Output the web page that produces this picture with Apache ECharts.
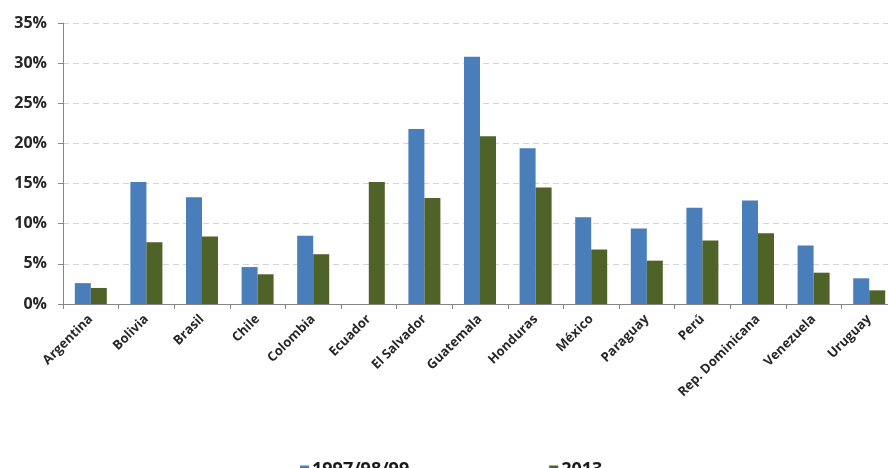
<!DOCTYPE html>
<html>
<head>
<meta charset="utf-8">
<script src="https://cdn.jsdelivr.net/npm/echarts@6/dist/echarts.min.js"></script>
<style>
  html, body { margin: 0; padding: 0; background: #ffffff; }
  #chart { width: 888px; height: 468px; }
</style>
</head>
<body>
<div id="chart"></div>
<script>
// Countries on the category axis
const countries = ['Argentina', 'Bolivia', 'Brasil', 'Chile', 'Colombia', 'Ecuador', 'El Salvador',
  'Guatemala', 'Honduras', 'México', 'Paraguay', 'Perú', 'Rep. Dominicana', 'Venezuela', 'Uruguay'];

// Share (%) for the late-1990s survey round; Ecuador has no value
const round1990s = [2.6, 15.2, 13.3, 4.6, 8.5, null, 21.8, 30.8, 19.4, 10.8, 9.4, 12.0, 12.9, 7.3, 3.2];

// Share (%) for 2013
const round2013 = [2.0, 7.7, 8.4, 3.7, 6.2, 15.2, 13.2, 20.9, 14.5, 6.8, 5.4, 7.9, 8.8, 3.9, 1.7];

const seriesNames = ['1997/98/99', '2013'];
const yTicks = { min: 0, max: 35, step: 5 };

const chart = echarts.init(document.getElementById('chart'), null, { renderer: 'canvas' });

const labelFont = '"Open Sans", "DejaVu Sans", sans-serif';

chart.setOption({
  animation: false,
  backgroundColor: '#ffffff',
  // plot area runs a little past the right edge of the canvas
  grid: { left: 63, top: 23, width: 834, height: 281, containLabel: false, outerBoundsMode: 'none' },
  legend: {
    data: seriesNames,
    left: 295,
    top: 456,
    itemWidth: 9,
    itemHeight: 9,
    itemGap: 140,
    icon: 'rect',
    textStyle: { fontFamily: labelFont, fontWeight: 'bold', fontSize: 18, color: '#1a1a1a', padding: [0, 0, 0, -2] }
  },
  xAxis: {
    type: 'category',
    data: countries,
    boundaryGap: true,
    axisLine: { lineStyle: { color: '#868686', width: 1 } },
    axisTick: { show: true, length: 5, lineStyle: { color: '#868686' } },
    axisLabel: {
      rotate: 45,
      interval: 0,
      margin: 13,
      fontFamily: labelFont,
      fontWeight: 'bold',
      fontSize: 13,
      color: '#262626'
    }
  },
  yAxis: {
    type: 'value',
    min: yTicks.min,
    max: yTicks.max,
    interval: yTicks.step,
    axisLine: { show: true, lineStyle: { color: '#868686', width: 1 } },
    axisTick: { show: true, length: 5, lineStyle: { color: '#868686' } },
    axisLabel: {
      formatter: v => v + '%',
      margin: 16,
      fontFamily: labelFont,
      fontWeight: 'bold',
      fontSize: 16,
      color: '#262626'
    },
    splitLine: { show: true, lineStyle: { color: '#d4d4d4', type: [6, 4], width: 1 } }
  },
  series: [
    {
      name: seriesNames[0],
      type: 'bar',
      data: round1990s,
      itemStyle: { color: '#4a7ebb' },
      barWidth: 16,
      barGap: '0%'
    },
    {
      name: seriesNames[1],
      type: 'bar',
      data: round2013,
      itemStyle: { color: '#4f6228' },
      barWidth: 16,
      barGap: '0%'
    }
  ]
});
</script>
</body>
</html>
